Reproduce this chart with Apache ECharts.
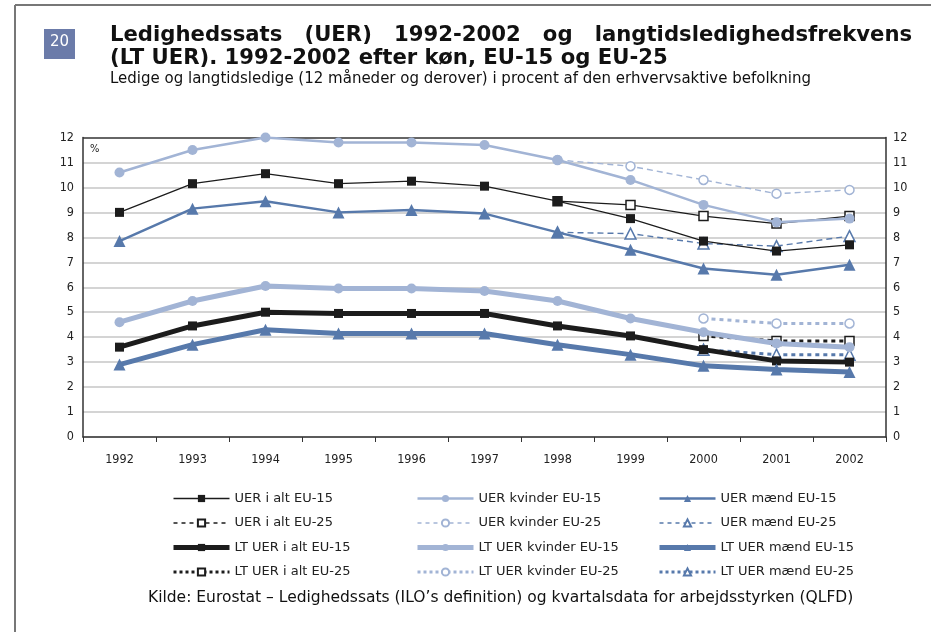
<!DOCTYPE html>
<html>
<head>
<meta charset="utf-8">
<script src="https://cdn.jsdelivr.net/npm/echarts@6/dist/echarts.min.js"></script>
<style>
  html, body { margin: 0; padding: 0; background: #fff; }
  #chart { width: 931px; height: 635px; }
</style>
</head>
<body>
<div id="chart"></div>
<script>
// Ledighedssats og langtidsledighed, EU-15 og EU-25
const years = ['1992', '1993', '1994', '1995', '1996', '1997', '1998', '1999', '2000', '2001', '2002'];

const uerAltEU15 = [9.0, 10.15, 10.55, 10.15, 10.25, 10.05, 9.45, 8.75, 7.85, 7.45, 7.7];
const uerAltEU25 = [null, null, null, null, null, null, 9.45, 9.3, 8.85, 8.55, 8.85];
const uerKvEU15 = [10.6, 11.5, 12.0, 11.8, 11.8, 11.7, 11.1, 10.3, 9.3, 8.6, 8.75];
const uerKvEU25 = [null, null, null, null, null, null, 11.1, 10.85, 10.3, 9.75, 9.9];
const uerMaEU15 = [7.85, 9.15, 9.45, 9.0, 9.1, 8.95, 8.2, 7.5, 6.75, 6.5, 6.9];
const uerMaEU25 = [null, null, null, null, null, null, 8.2, 8.15, 7.75, 7.65, 8.05];
const ltAltEU15 = [3.6, 4.45, 5.0, 4.95, 4.95, 4.95, 4.45, 4.05, 3.5, 3.05, 3.0];
const ltAltEU25 = [null, null, null, null, null, null, null, null, 4.05, 3.85, 3.85];
const ltKvEU15 = [4.6, 5.45, 6.05, 5.95, 5.95, 5.85, 5.45, 4.75, 4.2, 3.75, 3.6];
const ltKvEU25 = [null, null, null, null, null, null, null, null, 4.75, 4.55, 4.55];
const ltMaEU15 = [2.9, 3.7, 4.3, 4.15, 4.15, 4.15, 3.7, 3.3, 2.85, 2.7, 2.6];
const ltMaEU25 = [null, null, null, null, null, null, null, null, 3.5, 3.3, 3.3];

const BLACK = '#1c1c1c';
const LIGHT = '#a2b4d5';
const BLUE = '#5779ab';
const AXIS_FONT = '"DejaVu Sans Condensed", "Liberation Sans", sans-serif';

const chart = echarts.init(document.getElementById('chart'));

function line(name, data, color, width, type, symbol, size, open, z) {
  return {
    name: name,
    type: 'line',
    data: data,
    z: z,
    symbol: symbol,
    symbolSize: size,
    connectNulls: false,
    lineStyle: { color: color, width: width, type: type },
    itemStyle: open
      ? { color: '#fff', borderColor: color, borderWidth: 1.5 }
      : { color: color, borderColor: color, borderWidth: 0 },
    emphasis: { disabled: true },
    animation: false
  };
}

// legend item with its own line look (legend caps widths otherwise)
function item(name, color, width, type) {
  return { name: name, lineStyle: { color: color, width: width, type: type } };
}

const gridColors = [];
for (let i = 0; i < 12; i++) gridColors.push('#c6c6c6');
gridColors.push('#333');

const legendText = { fontFamily: 'DejaVu Sans', fontSize: 13, color: '#222' };
const legendBase = {
  orient: 'vertical', top: 487, itemWidth: 56, itemHeight: 9, itemGap: 11.5,
  textStyle: legendText, selectedMode: false
};

chart.setOption({
  backgroundColor: '#fff',
  animation: false,
  graphic: [
    { type: 'line', shape: { x1: 15, y1: 5, x2: 931, y2: 5 }, style: { stroke: '#777', lineWidth: 2 } },
    { type: 'line', shape: { x1: 15, y1: 5, x2: 15, y2: 632 }, style: { stroke: '#777', lineWidth: 2 } },
    { type: 'rect', shape: { x: 44, y: 29, width: 31, height: 30 }, style: { fill: '#6b7ba9' } },
    { type: 'text', left: 50, top: 35, style: { text: '20', fill: '#fff', font: '15px "DejaVu Sans"' } },
    { type: 'text', left: 110, top: 25, style: { text: 'Ledighedssats   (UER)   1992-2002   og   langtidsledighedsfrekvens', fill: '#111', font: 'bold 21.2px "DejaVu Sans"' } },
    { type: 'text', left: 110, top: 48, style: { text: '(LT UER). 1992-2002 efter køn, EU-15 og EU-25', fill: '#111', font: 'bold 21.2px "DejaVu Sans"' } },
    { type: 'text', left: 110, top: 72, style: { text: 'Ledige og langtidsledige (12 måneder og derover) i procent af den erhvervsaktive befolkning', fill: '#111', font: '15px "DejaVu Sans"' } },
    { type: 'text', left: 90, top: 144, style: { text: '%', fill: '#222', font: '11px ' + AXIS_FONT } },
    { type: 'text', left: 148, top: 590, style: { text: 'Kilde: Eurostat – Ledighedssats (ILO’s definition) og kvartalsdata for arbejdsstyrken (QLFD)', fill: '#111', font: '15.5px "DejaVu Sans"' } }
  ],
  grid: { left: 83, right: 45, top: 137.5, bottom: 198 },
  legend: [
    Object.assign({}, legendBase, { left: 166, data: [
      item('UER i alt EU-15', BLACK, 1.5, 'solid'),
      item('UER i alt EU-25', BLACK, 1.4, [4, 4]),
      item('LT UER i alt EU-15', BLACK, 5, 'solid'),
      item('LT UER i alt EU-25', BLACK, 3, [3, 3])] }),
    Object.assign({}, legendBase, { left: 410, data: [
      item('UER kvinder EU-15', LIGHT, 2.5, 'solid'),
      item('UER kvinder EU-25', LIGHT, 1.4, [4, 4]),
      item('LT UER kvinder EU-15', LIGHT, 5, 'solid'),
      item('LT UER kvinder EU-25', LIGHT, 3, [3, 3])] }),
    Object.assign({}, legendBase, { left: 652, data: [
      item('UER mænd EU-15', BLUE, 2.5, 'solid'),
      item('UER mænd EU-25', BLUE, 1.4, [4, 4]),
      item('LT UER mænd EU-15', BLUE, 5, 'solid'),
      item('LT UER mænd EU-25', BLUE, 3, [3, 3])] })
  ],
  xAxis: {
    type: 'category',
    data: years,
    boundaryGap: true,
    axisLine: { lineStyle: { color: '#333', width: 1.5 } },
    axisTick: { show: true, length: 5, lineStyle: { color: '#333' } },
    axisLabel: { color: '#222', fontFamily: AXIS_FONT, fontSize: 12.5, margin: 16 },
    splitLine: { show: false }
  },
  yAxis: [
    {
      type: 'value', min: 0, max: 12, interval: 1,
      axisLine: { show: true, lineStyle: { color: '#333', width: 1.5 } },
      axisTick: { show: false },
      axisLabel: { color: '#222', fontFamily: AXIS_FONT, fontSize: 12.5, margin: 9 },
      splitLine: { show: true, lineStyle: { color: gridColors, width: 1.5 } }
    },
    {
      type: 'value', min: 0, max: 12, interval: 1, position: 'right',
      axisLine: { show: true, lineStyle: { color: '#333', width: 1.5 } },
      axisTick: { show: false },
      axisLabel: { color: '#222', fontFamily: AXIS_FONT, fontSize: 12.5, margin: 7 },
      splitLine: { show: false }
    }
  ],
  series: [
    line('UER i alt EU-25', uerAltEU25, BLACK, 1.2, 'solid', 'rect', 9, true, 2),
    line('UER kvinder EU-25', uerKvEU25, LIGHT, 1.4, [6, 4], 'circle', 9, true, 2),
    line('UER mænd EU-25', uerMaEU25, BLUE, 1.4, [6, 4], 'triangle', 11, true, 2),
    line('LT UER i alt EU-25', ltAltEU25, BLACK, 3, [4, 4], 'rect', 9, true, 2),
    line('LT UER kvinder EU-25', ltKvEU25, LIGHT, 3, [4, 4], 'circle', 9, true, 2),
    line('LT UER mænd EU-25', ltMaEU25, BLUE, 3, [4, 4], 'triangle', 11, true, 2),
    line('UER kvinder EU-15', uerKvEU15, LIGHT, 2.5, 'solid', 'circle', 10, false, 3),
    line('UER i alt EU-15', uerAltEU15, BLACK, 1.2, 'solid', 'rect', 9, false, 3),
    line('UER mænd EU-15', uerMaEU15, BLUE, 2.5, 'solid', 'triangle', 12, false, 3),
    line('LT UER kvinder EU-15', ltKvEU15, LIGHT, 5, 'solid', 'circle', 10, false, 3),
    line('LT UER i alt EU-15', ltAltEU15, BLACK, 5, 'solid', 'rect', 9, false, 3),
    line('LT UER mænd EU-15', ltMaEU15, BLUE, 5, 'solid', 'triangle', 12, false, 3)
  ]
});

window.addEventListener('resize', () => chart.resize());
</script>
</body>
</html>
